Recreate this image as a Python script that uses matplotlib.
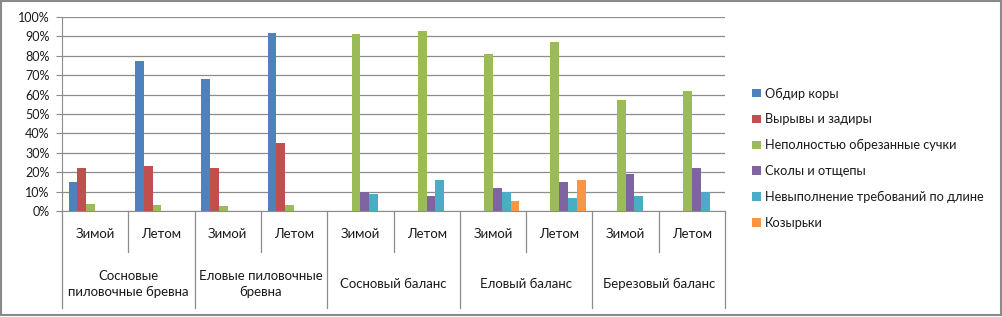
import numpy as np
import matplotlib.pyplot as plt
from matplotlib.patches import Rectangle

# data (percent)
seasons = ['Зимой', 'Летом'] * 5
groups = ['Сосновые\nпиловочные бревна', 'Еловые пиловочные\nбревна',
          'Сосновый баланс', 'Еловый баланс', 'Березовый баланс']
series_names = ['Обдир коры', 'Вырывы и задиры', 'Неполностью обрезанные сучки',
                'Сколы и отщепы', 'Невыполнение требований по длине', 'Козырьки']
bark = [15, 77.5, 68, 92, 0, 0, 0, 0, 0, 0]
tears = [22, 23, 22, 35, 0, 0, 0, 0, 0, 0]
knots = [3.5, 3, 2.5, 3, 91, 93, 81, 87, 57, 62]
chips = [0, 0, 0, 0, 10, 7.5, 12, 15, 19, 22]
length = [0, 0, 0, 0, 9, 16, 10, 6.5, 7.5, 10]
visors = [0, 0, 0, 0, 0, 0, 5, 16, 0, 0]
colors = ['#4F81BD', '#C0504D', '#9BBB59', '#8064A2', '#4BACC6', '#F79646']

plt.rcParams['font.family'] = ['Lato', 'DejaVu Sans']
txt = '#1a1a1a'
grid_c = '#8c8c8c'

fig = plt.figure(figsize=(10.03, 3.17), dpi=100)
ax = fig.add_axes([62 / 1003, 106 / 317, 663 / 1003, 194 / 317])

values = [bark, tears, knots, chips, length, visors]
w = 1 / 7.5  # Excel-like gap width 150%
x = np.arange(len(seasons)) + 0.5
for i, (name, vals) in enumerate(zip(series_names, values)):
    ax.bar(x + (i - 2.5) * w, vals, width=w, color=colors[i], label=name,
           zorder=3, linewidth=0)

ax.set_xlim(0, len(seasons))
ax.set_ylim(0, 100)
ax.set_yticks(np.arange(0, 101, 10))
ax.set_yticklabels([f'{v}%' for v in range(0, 101, 10)], fontsize=9, color=txt)
ax.yaxis.grid(True, color=grid_c, linewidth=0.9, zorder=0)
ax.set_xticks([])
ax.tick_params(axis='y', length=4, color=grid_c, pad=5)
for s in ['top', 'right']:
    ax.spines[s].set_visible(False)
ax.spines['left'].set_color(grid_c)
ax.spines['bottom'].set_color(grid_c)

# multi-level category axis
tr = ax.get_xaxis_transform()
h = 194.0
for k in range(len(seasons) + 1):
    depth = 97 if k % 2 == 0 else 41
    ax.plot([k, k], [0, -depth / h], transform=tr, color=grid_c,
            linewidth=0.9, clip_on=False)
for k, s in enumerate(seasons):
    ax.text(k + 0.5, -23 / h, s, transform=tr, ha='center', va='center',
            fontsize=9.5, color=txt)
for g, name in enumerate(groups):
    ax.text(2 * g + 1, -73 / h, name, transform=tr, ha='center', va='center',
            fontsize=9.5, color=txt, linespacing=1.35)

fig.legend(loc='upper left', bbox_to_anchor=(741 / 1003, 1 - 76 / 317),
           frameon=False, fontsize=9.2, handlelength=0.65, handleheight=0.65,
           handletextpad=0.3, labelspacing=1.08, labelcolor=txt)

fig.patches.append(Rectangle((0.001, 0.005), 0.997, 0.992, transform=fig.transFigure,
                             fill=False, edgecolor='#8a8a8a', linewidth=1.5))

fig.savefig('out.png', dpi=100)
